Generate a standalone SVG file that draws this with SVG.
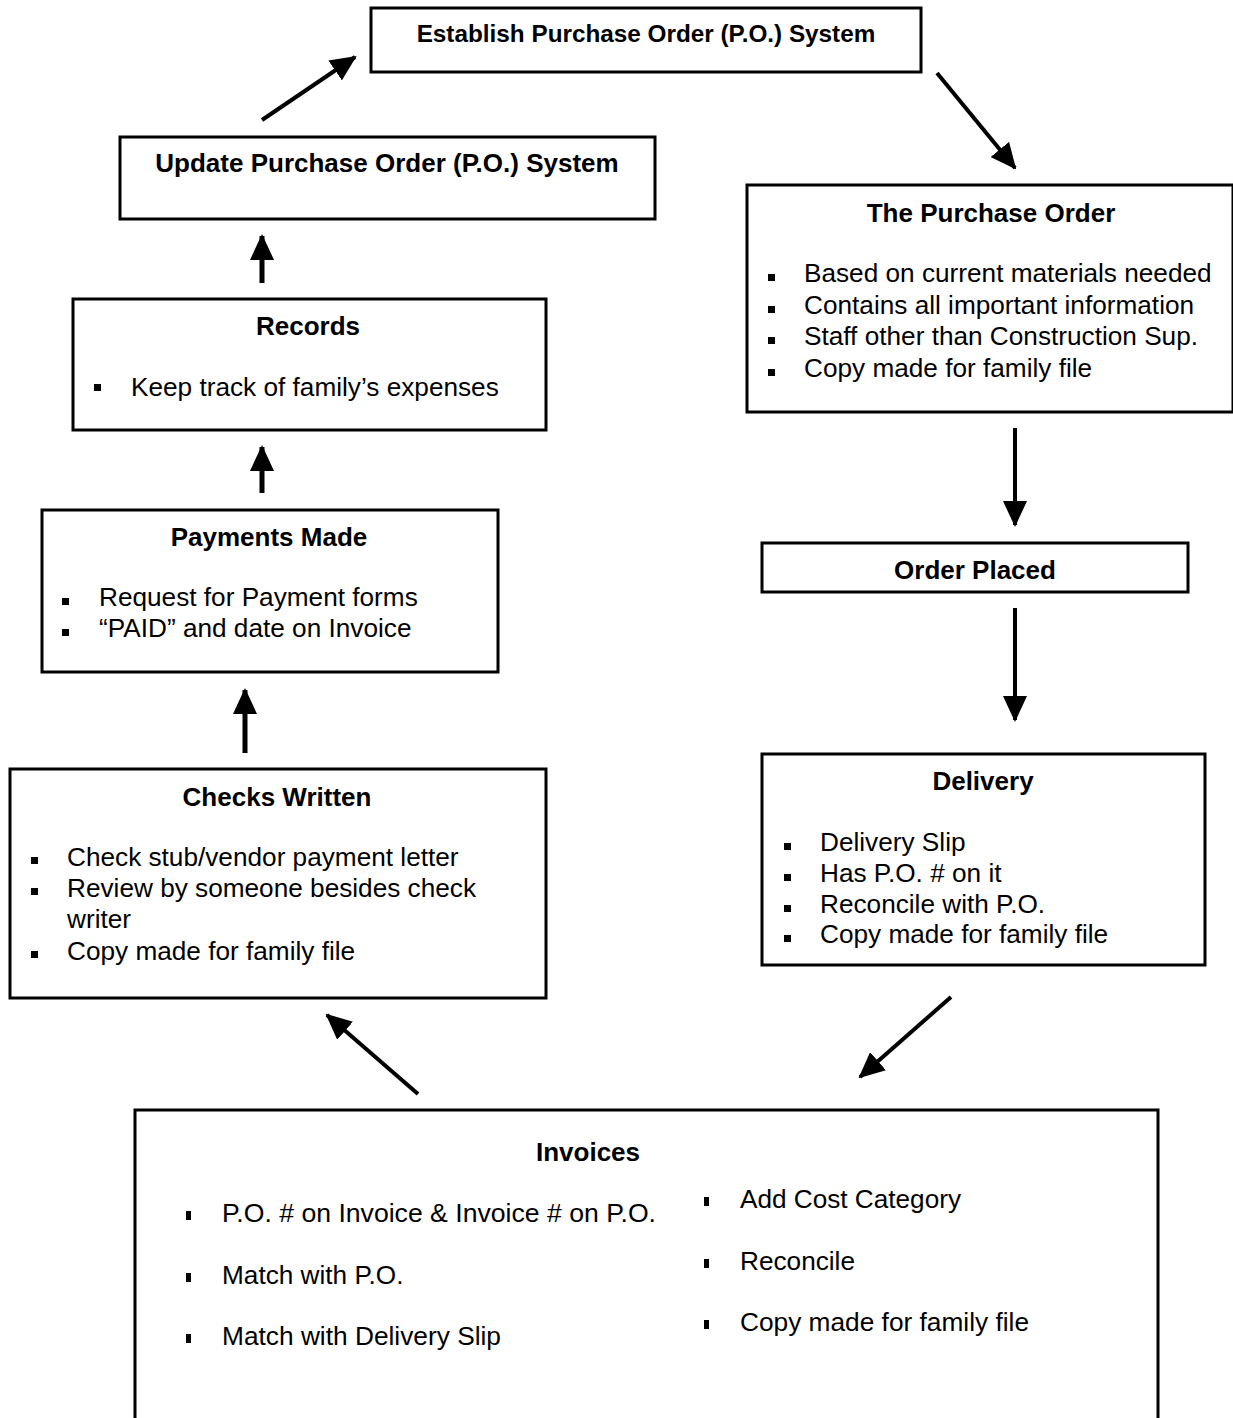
<svg xmlns="http://www.w3.org/2000/svg" width="1233" height="1418" viewBox="0 0 1233 1418">
<style>
.box{fill:#fff;stroke:#000;stroke-width:3}
.t{font-family:"Liberation Sans",Arial,sans-serif;font-weight:bold;font-size:26px;fill:#000;text-anchor:middle}
.b{font-family:"Liberation Sans",Arial,sans-serif;font-size:26.2px;fill:#000}
.bl{fill:#000}
.c{stroke:#000;stroke-width:4;fill:none;marker-end:url(#ah)}
.c5{stroke:#000;stroke-width:5;fill:none;marker-end:url(#ah)}
</style>
<defs>
<marker id="ah" markerUnits="userSpaceOnUse" markerWidth="26" markerHeight="24" refX="24" refY="12" orient="auto">
<path d="M0,0 L26,12 L0,24 Z" fill="#000"/>
</marker>
</defs>
<rect width="1233" height="1418" fill="#fff"/>
<g id="connectors">
<line class="c" x1="262" y1="120" x2="355" y2="57"/>
<line class="c" x1="937" y1="73" x2="1015" y2="168"/>
<line class="c" x1="1015" y1="428" x2="1015" y2="525"/>
<line class="c" x1="1015" y1="608" x2="1015" y2="720"/>
<line class="c" x1="951" y1="997" x2="860" y2="1077"/>
<line class="c" x1="418" y1="1094" x2="327" y2="1015"/>
<line class="c5" x1="245" y1="753" x2="245" y2="690"/>
<line class="c5" x1="262" y1="493" x2="262" y2="447"/>
<line class="c5" x1="262" y1="283" x2="262" y2="236"/>
</g>
<g id="establish">
<rect class="box" x="371" y="8" width="550" height="64"/>
<text class="t" x="646" y="42" style="font-size:24.3px">Establish Purchase Order (P.O.) System</text>
</g>
<g id="update">
<rect class="box" x="120" y="137" width="535" height="82"/>
<text class="t" x="387" y="172">Update Purchase Order (P.O.) System</text>
</g>
<g id="records">
<rect class="box" x="73" y="299" width="473" height="131"/>
<text class="t" x="308" y="335">Records</text>
<rect class="bl" x="94" y="384" width="7" height="7"/>
<text class="b" x="131" y="396">Keep track of family’s expenses</text>
</g>
<g id="payments">
<rect class="box" x="42" y="510" width="456" height="162"/>
<text class="t" x="269" y="546">Payments Made</text>
<rect class="bl" x="62" y="598" width="7" height="7"/>
<text class="b" x="99" y="606">Request for Payment forms</text>
<rect class="bl" x="62" y="629" width="7" height="7"/>
<text class="b" x="99" y="637">“PAID” and date on Invoice</text>
</g>
<g id="checks">
<rect class="box" x="10" y="769" width="536" height="229"/>
<text class="t" x="277" y="806">Checks Written</text>
<rect class="bl" x="31" y="857" width="7" height="7"/>
<text class="b" x="67" y="866">Check stub/vendor payment letter</text>
<rect class="bl" x="31" y="888" width="7" height="7"/>
<text class="b" x="67" y="897">Review by someone besides check</text>
<text class="b" x="67" y="928">writer</text>
<rect class="bl" x="31" y="951" width="7" height="7"/>
<text class="b" x="67" y="960">Copy made for family file</text>
</g>
<g id="purchase-order">
<rect class="box" x="747" y="185" width="486" height="227"/>
<text class="t" x="991" y="222">The Purchase Order</text>
<rect class="bl" x="768" y="274" width="7" height="7"/>
<text class="b" x="804" y="282">Based on current materials needed</text>
<rect class="bl" x="768" y="306" width="7" height="7"/>
<text class="b" x="804" y="314">Contains all important information</text>
<rect class="bl" x="768" y="337" width="7" height="7"/>
<text class="b" x="804" y="345">Staff other than Construction Sup.</text>
<rect class="bl" x="768" y="369" width="7" height="7"/>
<text class="b" x="804" y="377">Copy made for family file</text>
</g>
<g id="order-placed">
<rect class="box" x="762" y="543" width="426" height="49"/>
<text class="t" x="975" y="579">Order Placed</text>
</g>
<g id="delivery">
<rect class="box" x="762" y="754" width="443" height="211"/>
<text class="t" x="983" y="790">Delivery</text>
<rect class="bl" x="784" y="843" width="7" height="7"/>
<text class="b" x="820" y="851">Delivery Slip</text>
<rect class="bl" x="784" y="874" width="7" height="7"/>
<text class="b" x="820" y="882">Has P.O. # on it</text>
<rect class="bl" x="784" y="905" width="7" height="7"/>
<text class="b" x="820" y="913">Reconcile with P.O.</text>
<rect class="bl" x="784" y="935" width="7" height="7"/>
<text class="b" x="820" y="943">Copy made for family file</text>
</g>
<g id="invoices">
<rect class="box" x="135" y="1110" width="1023" height="320"/>
<text class="t" x="588" y="1161">Invoices</text>
<rect class="bl" x="186" y="1211" width="5" height="9"/>
<text class="b" x="222" y="1222" textLength="434" lengthAdjust="spacingAndGlyphs">P.O. # on Invoice &amp; Invoice # on P.O.</text>
<rect class="bl" x="186" y="1273" width="5" height="9"/>
<text class="b" x="222" y="1284">Match with P.O.</text>
<rect class="bl" x="186" y="1334" width="5" height="9"/>
<text class="b" x="222" y="1345" textLength="279" lengthAdjust="spacingAndGlyphs">Match with Delivery Slip</text>
<rect class="bl" x="704" y="1197" width="5" height="9"/>
<text class="b" x="740" y="1208" textLength="221" lengthAdjust="spacingAndGlyphs">Add Cost Category</text>
<rect class="bl" x="704" y="1259" width="5" height="9"/>
<text class="b" x="740" y="1270">Reconcile</text>
<rect class="bl" x="704" y="1320" width="5" height="9"/>
<text class="b" x="740" y="1331" textLength="289" lengthAdjust="spacingAndGlyphs">Copy made for family file</text>
</g>
</svg>
